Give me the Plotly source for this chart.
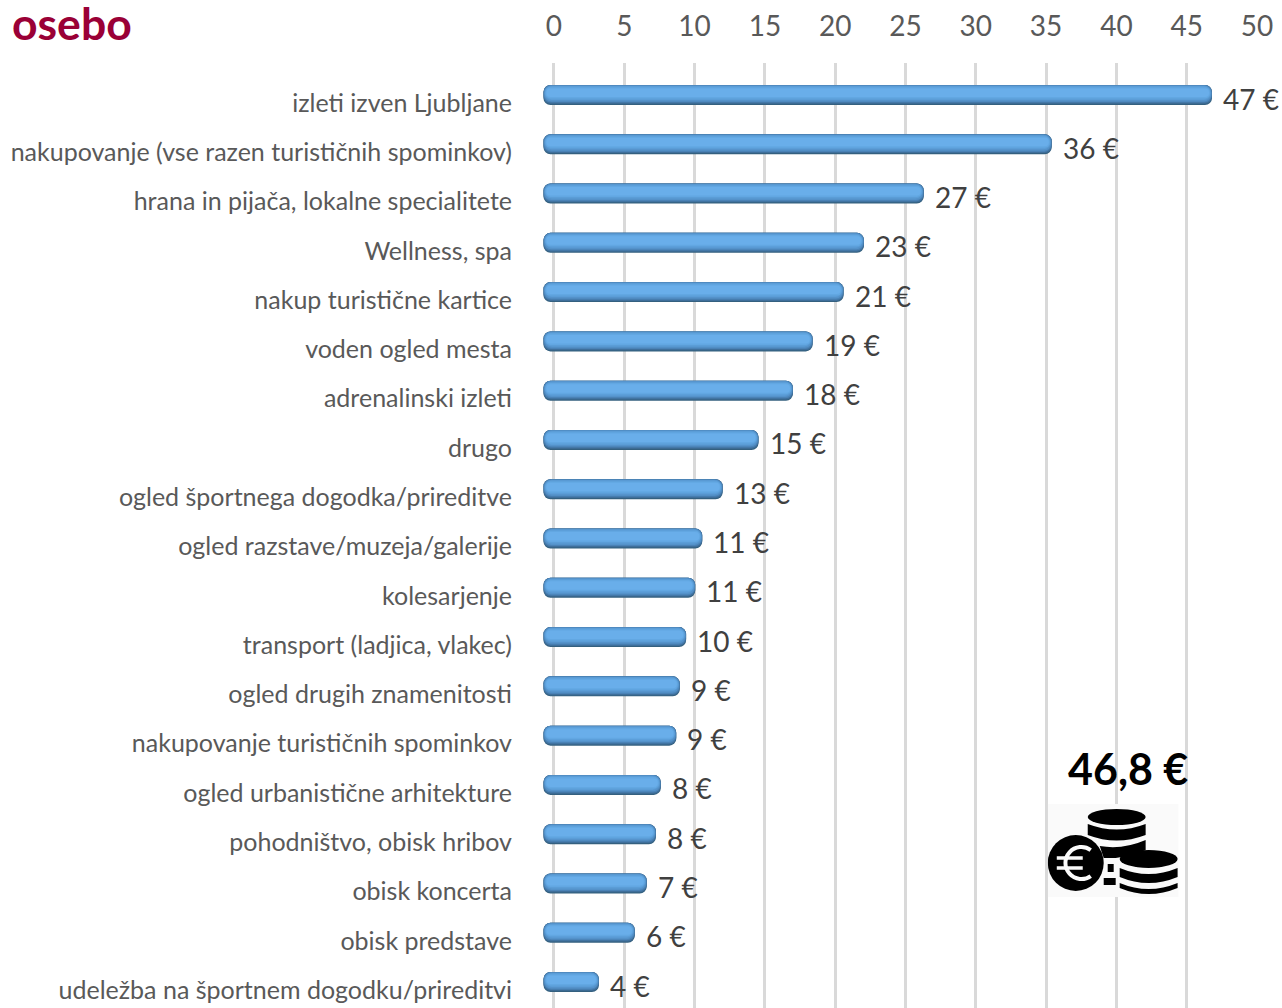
import base64
import plotly.graph_objects as go

categories = ["izleti izven Ljubljane", "nakupovanje (vse razen turističnih spominkov)",
              "hrana in pijača, lokalne specialitete", "Wellness, spa", "nakup turistične kartice",
              "voden ogled mesta", "adrenalinski izleti", "drugo", "ogled športnega dogodka/prireditve",
              "ogled razstave/muzeja/galerije", "kolesarjenje", "transport (ladjica, vlakec)",
              "ogled drugih znamenitosti", "nakupovanje turističnih spominkov",
              "ogled urbanistične arhitekture", "pohodništvo, obisk hribov", "obisk koncerta",
              "obisk predstave", "udeležba na športnem dogodku/prireditvi"]
bar_values = [46.8, 35.4, 26.3, 22.05, 20.6, 18.4, 17.0, 14.55, 12.0, 10.55, 10.05, 9.4, 8.95, 8.7,
              7.6, 7.25, 6.6, 5.75, 3.2]
label_values = [47, 36, 27, 23, 21, 19, 18, 15, 13, 11, 11, 10, 9, 9, 8, 8, 7, 6, 4]
ticks = list(range(0, 51, 5))
total_label = "46,8 €"
title_text = "osebo"

FONT = "Lato, Carlito, sans-serif"
TEXT = "#595959"
W, HT = 1282, 1008
PX_X = 14.08
PX_Y = 49.28
START = -10.5 / PX_X
XMIN = -0.85
ML = 553.5 + XMIN * PX_X
MR = 24.5
MT = 63
PW, PH = W - ML - MR, HT - MT


def px(x):
    return (x - ML) / PW


def py(y):
    return 1 - (y - MT) / PH


# nested rounded bars (top inset px, bottom inset px, side inset px, colour) give the bevelled look
LAYERS = [(0, 0, 0, "#34607f"), (0, 1.2, 0, "#3f6f9b"), (0, 2.4, 0.3, "#4a82b6"), (0.4, 3.6, 0.7, "#5492ca"),
          (1, 5, 1.2, "#5b9dd7"), (2.2, 6.5, 2, "#62a7e2"), (3.5, 8, 3, "#69aeea")]
H = 20

fig = go.Figure()
for t, b, s, col in LAYERS:
    w = (H - t - b) / PX_Y
    fig.add_bar(y=list(range(len(categories))), x=[v - START - 2 * s / PX_X for v in bar_values],
                base=START + s / PX_X, orientation="h", width=w,
                offset=-(H / 2 - t) / PX_Y,
                marker=dict(color=col, line=dict(width=0)), showlegend=False, hoverinfo="skip")

# invisible trace holding the category tick labels
fig.add_scatter(x=[0] * len(categories), y=categories, yaxis="y2", mode="markers",
                marker=dict(opacity=0), showlegend=False, hoverinfo="skip")

for i, (v, lab) in enumerate(zip(bar_values, label_values)):
    fig.add_annotation(x=v, y=i, xref="x", yref="y", text=f"{lab} €", showarrow=False, xanchor="left",
                       yanchor="middle", xshift=9, yshift=-3.5, font=dict(family=FONT, size=28, color="#404040"))

fig.add_annotation(x=px(1128), y=py(768), xref="paper", yref="paper", xanchor="center", yanchor="middle",
                   text=f"<b>{total_label}</b>", showarrow=False, font=dict(family=FONT, size=43, color="#000"))

svg = """<svg xmlns='http://www.w3.org/2000/svg' viewBox='0 0 131 93'>
<rect width='131' height='93' fill='#fafafa'/>
<g fill='#000'>
<ellipse cx='69' cy='13' rx='29' ry='8'/>
<path d='M40 20 Q69 31 98 20 V31 Q69 42 40 31Z'/>
<path d='M52 42 Q75 46 98 36 V46 Q90 50 80 52 L68 54 H56Z'/>
<path d='M60 60 H66 V68 H60Z M56 74 H68 V81 H56Z'/>
<circle cx='28' cy='59' r='28'/>
</g>
<path d='M43 46 A16 16 0 1 0 43 72' fill='none' stroke='#fafafa' stroke-width='4'/>
<path d='M9 54 H35 M9 64 H35' stroke='#fafafa' stroke-width='3.5'/>
<g fill='#000'>
<ellipse cx='101' cy='55' rx='29' ry='9'/>
<path d='M72 64 Q101 76 130 64 V73 Q101 85 72 73Z'/>
<path d='M72 79 Q101 91 130 79 V84 Q101 96 72 84Z'/>
</g></svg>"""
src = "data:image/svg+xml;base64," + base64.b64encode(svg.encode()).decode()
fig.add_layout_image(source=src, xref="paper", yref="paper", x=px(1048), y=py(804),
                     sizex=131 / PW, sizey=93 / PH, sizing="stretch", xanchor="left", yanchor="top", layer="above")

top, bottom = -(95 - MT) / PX_Y, (HT - 95) / PX_Y
SHIFT = 8 / PX_Y

fig.update_layout(
    width=W, height=HT, margin=dict(l=ML, r=MR, t=MT, b=0, autoexpand=False),
    paper_bgcolor="white", plot_bgcolor="white", barmode="overlay", barcornerradius=7, showlegend=False,
    font=dict(family=FONT, color=TEXT),
    title=dict(text=f"<b>{title_text}</b>", x=12 / W, xanchor="left", y=1 - 24 / HT, yanchor="middle",
               xref="container", yref="container", font=dict(family=FONT, size=44.5, color="#9a0036")),
    xaxis=dict(side="top", range=[XMIN, 50], tickvals=ticks, showgrid=True, gridcolor="#d9d9d9", gridwidth=2.5,
               zeroline=False, showline=False, ticks="", ticklabelstandoff=20, tickfont=dict(size=28, color=TEXT)),
    yaxis=dict(range=[bottom, top], showticklabels=False, showgrid=False, zeroline=False, ticks=""),
    yaxis2=dict(overlaying="y", side="left", type="category", categoryorder="array", categoryarray=categories,
                range=[bottom - SHIFT, top - SHIFT], showgrid=False, zeroline=False, ticks="",
                ticklabelstandoff=int(ML - 512), tickmode="array", tickvals=categories,
                tickfont=dict(size=25, color=TEXT)),
)
fig.write_html("out.html", config={"displayModeBar": False}, post_script="document.body.style.margin='0';")
